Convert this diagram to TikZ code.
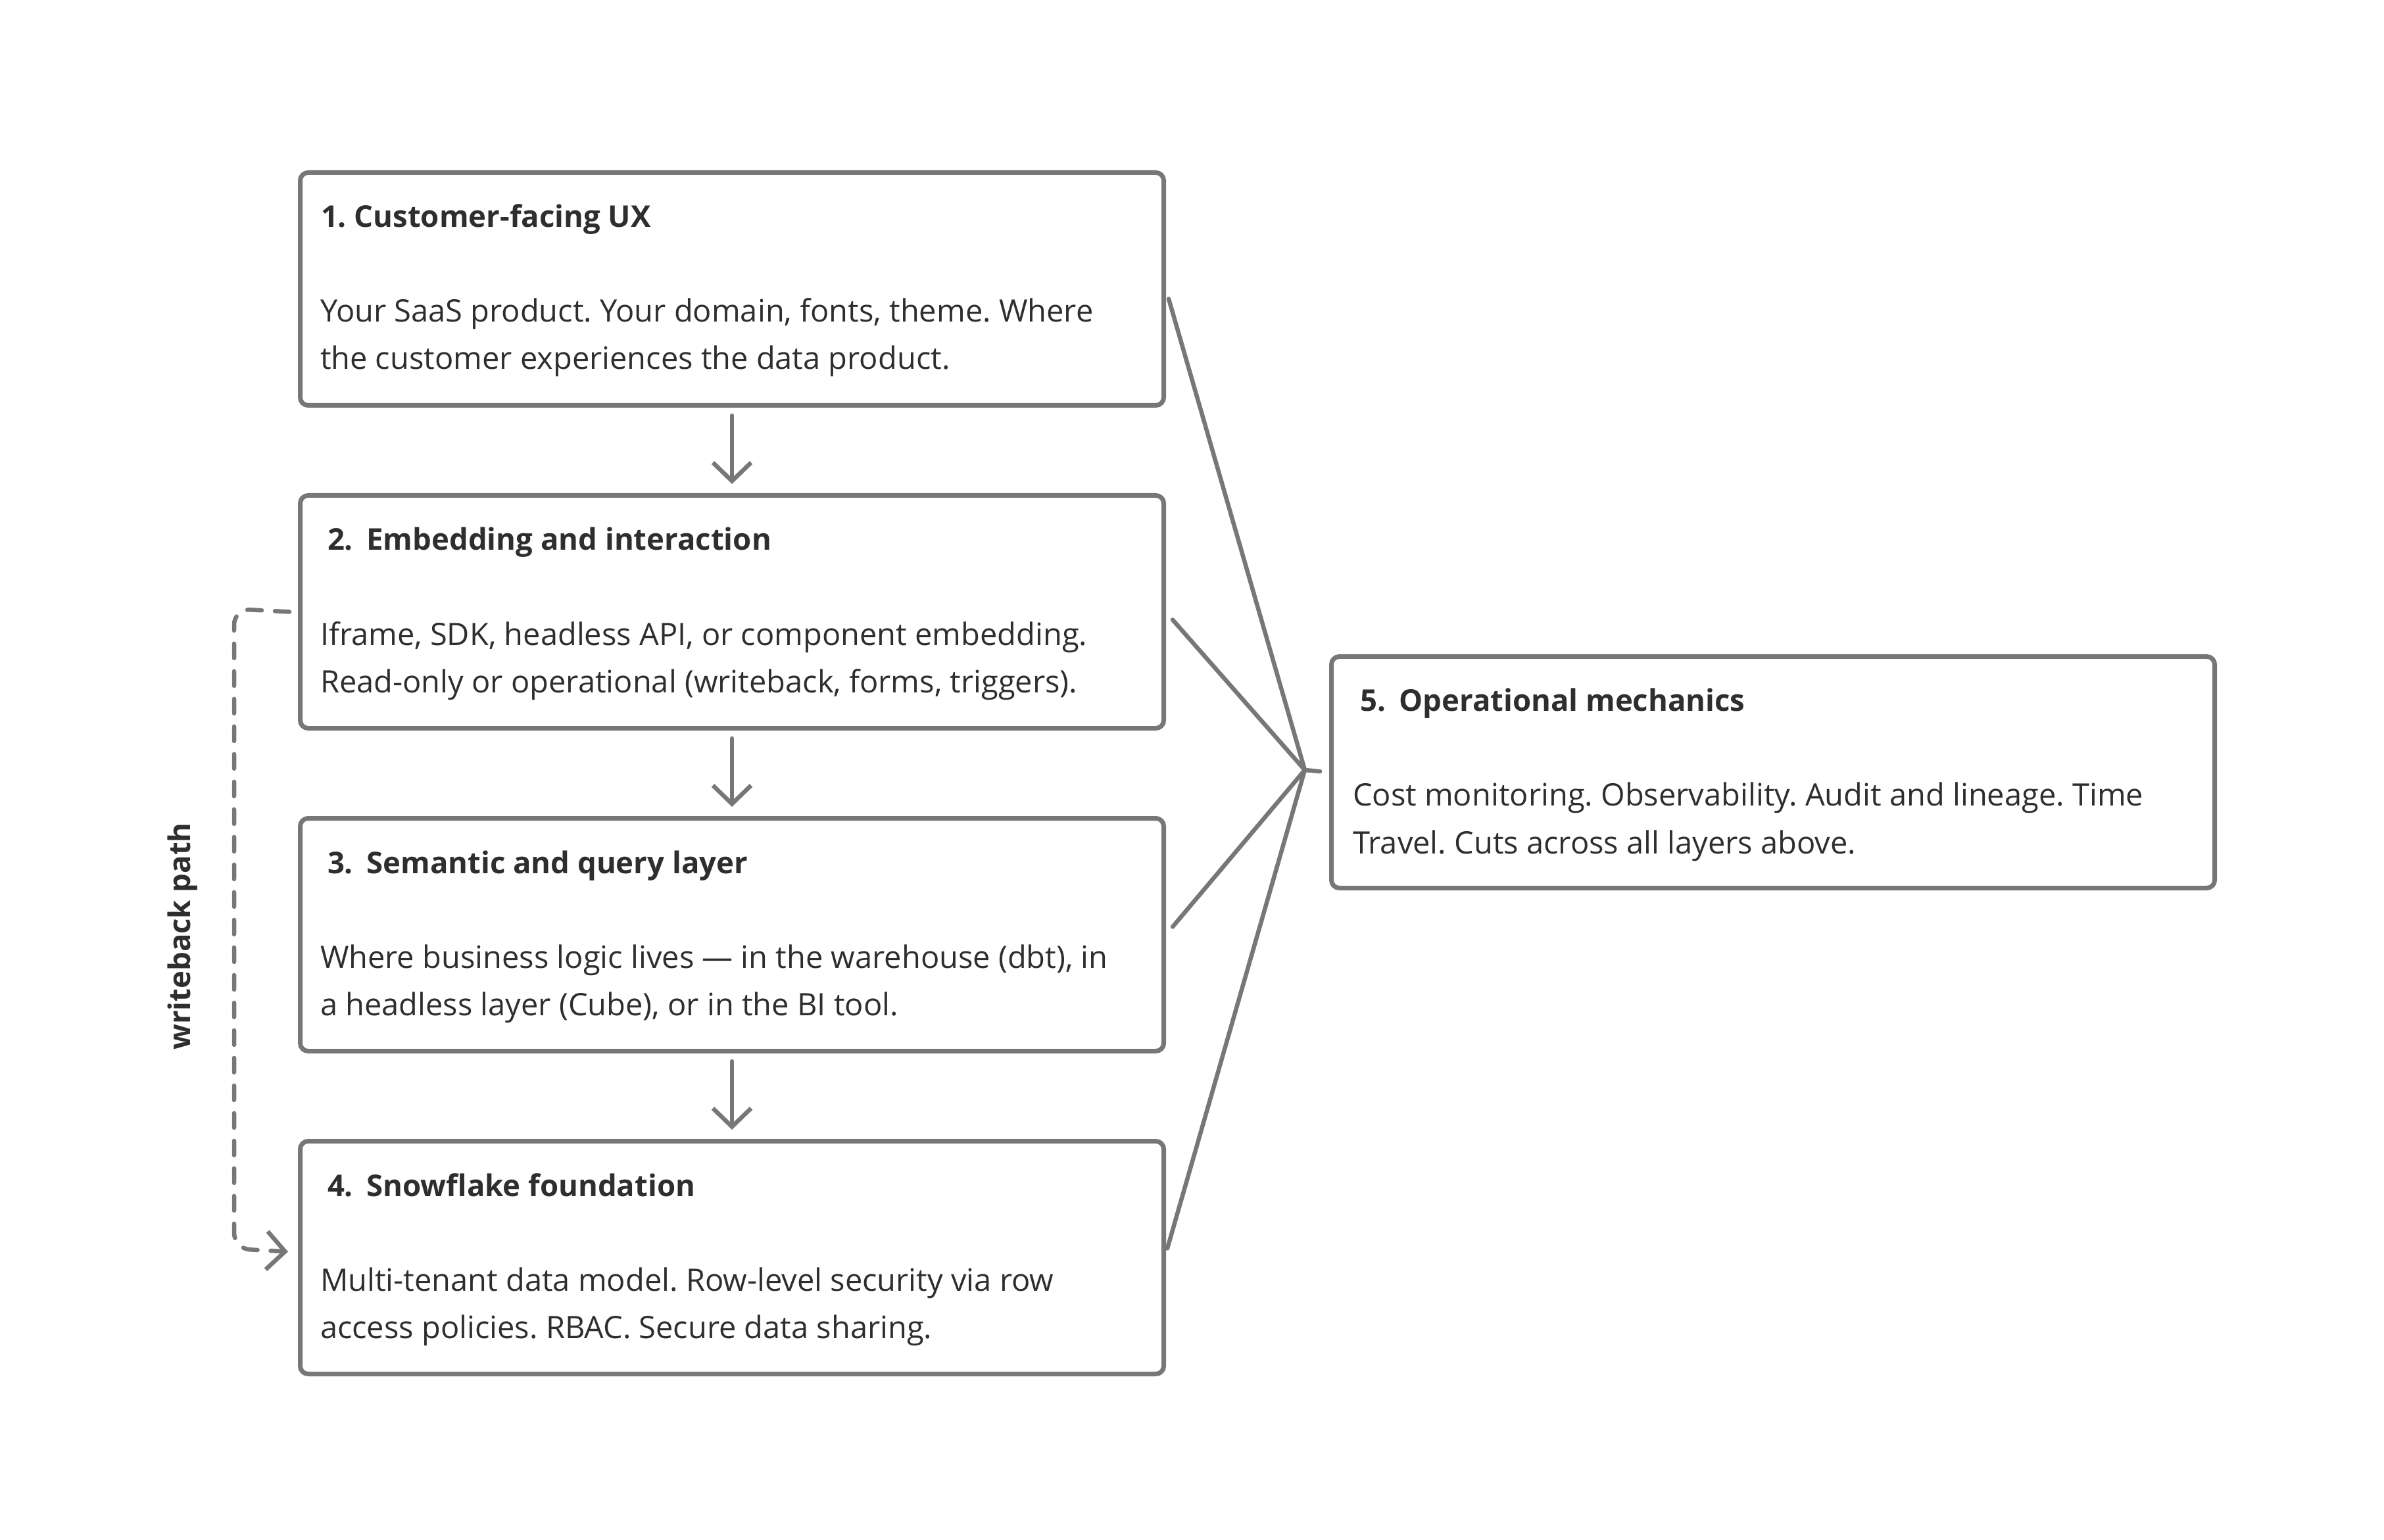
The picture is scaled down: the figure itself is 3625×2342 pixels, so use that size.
\documentclass[tikz,border=0pt]{standalone}
\usepackage{fontspec}
\setmainfont{Open Sans}
\usetikzlibrary{arrows.meta,calc}
\definecolor{edge}{HTML}{777777}
\definecolor{ink}{HTML}{2E2E2E}
\frenchspacing
\begin{document}
\begin{tikzpicture}[x=0.2pt,y=-0.2pt,
  box/.style={draw=edge, line width=1.4pt, rounded corners=2.4pt, minimum width=262.6pt, minimum height=70.8pt, inner sep=0pt, anchor=north west},
  wide/.style={minimum width=268.6pt, minimum height=70.4pt},
  ttl/.style={font=\bfseries\fontsize{9.1pt}{14.4pt}\selectfont, text=ink, anchor=base west, inner sep=0pt},
  txt/.style={font=\fontsize{9.4pt}{14.4pt}\selectfont, text=ink, anchor=base west, inner sep=0pt},
  conn/.style={draw=edge, line width=1.3pt, line cap=round, line join=round},
  flow/.style={conn, -{Straight Barb[length=5.6pt,width=11.6pt,line width=1.3pt]}, shorten <=2.4pt, shorten >=2.8pt},
  wb/.style={draw=edge, line width=1.3pt, line cap=round, dash pattern=on 4.4pt off 4pt, rounded corners=4.8pt, -{Straight Barb[length=5.6pt,width=11.6pt,line width=1.3pt]}}
]
\useasboundingbox[fill=white] (0,0) rectangle (3625,2342);

% boxes
\node[box] (b1) at (453,259) {};
\node[box] (b2) at (453,750) {};
\node[box] (b3) at (453,1241) {};
\node[box] (b4) at (453,1732) {};
\node[box,wide] (b5) at (2021,995) {};

% texts
\node[ttl] (t1) at (487,346) {1. Customer-facing UX};
\node[txt] (t1a) at (486,490) {Your SaaS product. Your domain, fonts, theme. Where};
\node[txt] (t1b) at (486,562) {the customer experiences the data product.};

\node[ttl] (t2) at (497,837) {2.\hspace{0.45em}Embedding and interaction};
\node[txt] (t2a) at (486,981) {Iframe, SDK, headless API, or component embedding.};
\node[txt] (t2b) at (486,1053) {Read-only or operational (writeback, forms, triggers).};

\node[ttl] (t3) at (497,1328) {3.\hspace{0.45em}Semantic and query layer};
\node[txt] (t3a) at (486,1472) {Where business logic lives — in the warehouse (dbt), in};
\node[txt] (t3b) at (486,1544) {a headless layer (Cube), or in the BI tool.};

\node[ttl] (t4) at (497,1819) {4.\hspace{0.45em}Snowflake foundation};
\node[txt] (t4a) at (486,1963) {Multi-tenant data model. Row-level security via row};
\node[txt] (t4b) at (486,2035) {access policies. RBAC. Secure data sharing.};

\node[ttl] (t5) at (2067,1082) {5.\hspace{0.45em}Operational mechanics};
\node[txt] (t5a) at (2056,1226) {Cost monitoring. Observability. Audit and lineage. Time};
\node[txt] (t5b) at (2056,1298) {Travel. Cuts across all layers above.};

% vertical flow arrows
\draw[flow] (b1.south) -- (b2.north);
\draw[flow] (b2.south) -- (b3.north);
\draw[flow] (b3.south) -- (b4.north);

% fan-in to operational mechanics
\coordinate (hub) at (1984,1171);
\coordinate (s1) at ($(b1.east)+(4,15)$);
\coordinate (s2) at ($(b2.east)+(10,12)$);
\coordinate (s3) at ($(b3.east)+(10,-12)$);
\coordinate (s4) at ($(b4.east)+(2,-14)$);
\draw[conn] (s1) -- (hub);
\draw[conn] (s2) -- (hub);
\draw[conn] (s3) -- (hub);
\draw[conn] (s4) -- (hub);
\draw[conn, shorten >=2.8pt] (hub) -- (b5.west);

% writeback path
\coordinate (w1) at ($(b2.west)+(-13,0)$);
\coordinate (w2) at ($(b4.west)+(-15,-9)$);
\draw[wb] (w1) -- (356,926) -- (356,1899) -- (w2);
\node[font=\bfseries\fontsize{9.1pt}{12pt}\selectfont, text=ink, rotate=90, inner sep=0pt] (wl) at (278,1424) {writeback path};
\end{tikzpicture}
\end{document}
